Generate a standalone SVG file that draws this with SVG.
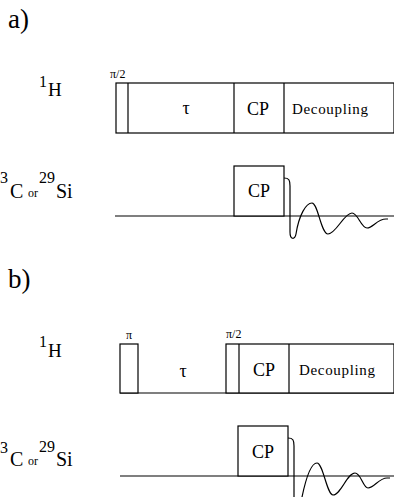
<svg xmlns="http://www.w3.org/2000/svg" width="394" height="497" viewBox="0 0 394 497">
<style>
.t{font-family:"Liberation Serif","Times New Roman",serif;fill:#000}
.ln{fill:none;stroke:#000;stroke-width:1.2}
.bx{fill:#fff;stroke:#000;stroke-width:1.2}
</style>
<rect width="394" height="497" fill="#fff"/>
<g id="panel-a">
<text class="t" x="8" y="28" font-size="27">a)</text>
<g id="a-H-label"><text class="t" x="39" y="87" font-size="16">1</text><text class="t" x="48" y="96" font-size="19">H</text></g>
<g id="a-C-label"><text class="t" x="0" y="183" font-size="16">3</text><text class="t" x="10" y="198" font-size="20">C</text><text class="t" x="28" y="197" font-size="12">or</text><text class="t" x="39" y="183" font-size="16">29</text><text class="t" x="56" y="198" font-size="20">Si</text></g>
<g id="a-H-seq">
<rect class="bx" x="116" y="83" width="278" height="50"/>
<line class="ln" x1="128" y1="83" x2="128" y2="133"/>
<line class="ln" x1="234" y1="83" x2="234" y2="133"/>
<line class="ln" x1="284" y1="83" x2="284" y2="133"/>
<text class="t" x="110" y="78" font-size="12">π/2</text>
<text class="t" x="186" y="114" font-size="18" text-anchor="middle">τ</text>
<text class="t" x="258" y="115" font-size="18" text-anchor="middle">CP</text>
<text class="t" x="292" y="114" font-size="15" textLength="76" lengthAdjust="spacing">Decoupling</text>
</g>
<g id="a-C-seq">
<line class="ln" x1="115" y1="216" x2="394" y2="216"/>
<rect class="bx" x="234" y="166" width="50" height="50"/>
<text class="t" x="259" y="197" font-size="18" text-anchor="middle">CP</text>
<path class="ln" d="M284,178 C289,178 290,180 290,186 L290,232 C290,240 295,240 296,234 C299,215 306,203 312,203 C318,203 321,234 328,234 C336,234 344,213 352,213 C358,213 361,228 367,228 C373,228 377,219 386,219 L388,219"/>
</g>
</g>
<g id="panel-b">
<text class="t" x="8" y="288" font-size="27">b)</text>
<g id="b-H-label"><text class="t" x="39" y="347" font-size="16">1</text><text class="t" x="48" y="357" font-size="19">H</text></g>
<g id="b-C-label"><text class="t" x="0" y="453" font-size="16">3</text><text class="t" x="10" y="466" font-size="20">C</text><text class="t" x="28" y="465" font-size="12">or</text><text class="t" x="39" y="452" font-size="16">29</text><text class="t" x="56" y="466" font-size="20">Si</text></g>
<g id="b-H-seq">
<line class="ln" x1="120" y1="393" x2="394" y2="393"/>
<rect class="bx" x="120" y="344" width="18" height="49"/>
<rect class="bx" x="226" y="344" width="168" height="49"/>
<line class="ln" x1="239" y1="344" x2="239" y2="393"/>
<line class="ln" x1="289" y1="344" x2="289" y2="393"/>
<text class="t" x="129" y="339" font-size="12" text-anchor="middle">π</text>
<text class="t" x="226" y="338" font-size="12">π/2</text>
<text class="t" x="183" y="377" font-size="18" text-anchor="middle">τ</text>
<text class="t" x="264" y="376" font-size="18" text-anchor="middle">CP</text>
<text class="t" x="299" y="375" font-size="15" textLength="76" lengthAdjust="spacing">Decoupling</text>
</g>
<g id="b-C-seq">
<line class="ln" x1="120" y1="476" x2="394" y2="476"/>
<rect class="bx" x="238" y="426" width="50" height="50"/>
<text class="t" x="263" y="458" font-size="18" text-anchor="middle">CP</text>
<path class="ln" d="M288,438 C293,438 294,440 294,446 L294,497 M302,497 C306,478 311,463 317,463 C323,463 327,495 333,495 C341,495 347,473 355,473 C361,473 363,488 368,488 C374,488 379,478 387,478 L390,478"/>
</g>
</g>
</svg>
